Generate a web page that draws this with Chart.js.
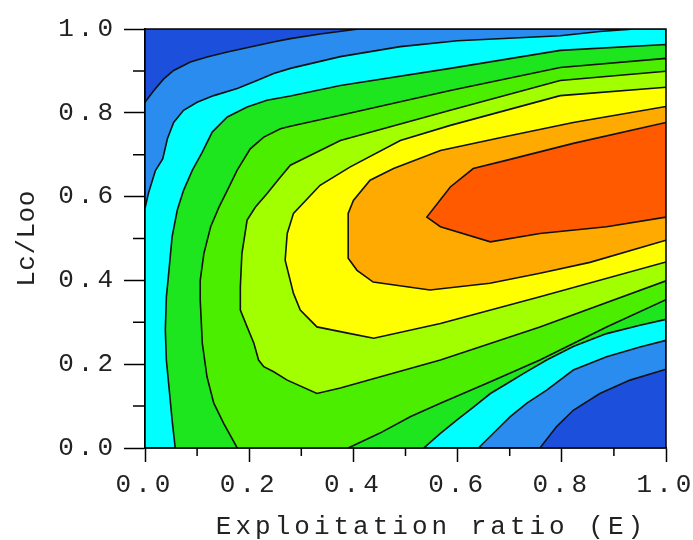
<!DOCTYPE html>
<html>
<head>
<meta charset="utf-8">
<title>Yield isopleth</title>
<script src="https://cdn.jsdelivr.net/npm/chart.js@4.4.1/dist/chart.umd.min.js"></script>
<style>
  html, body { margin: 0; padding: 0; background: #fff; }
  #wrap { width: 693px; height: 540px; }
</style>
</head>
<body>
<div id="wrap"><canvas id="isoChart"></canvas></div>
<script>
// tick labels
const eTickLabels = ['0.0', '0.2', '0.4', '0.6', '0.8', '1.0'];
const lTickLabels = ['0.0', '0.2', '0.4', '0.6', '0.8', '1.0'];

// contour lines, points are [E, Lc/Loo]
// lines 1-4 come in two pieces (upper-left and lower-right)
const c1Upper = [[0, 0.825], [0.017, 0.853], [0.036, 0.881], [0.055, 0.901], [0.087, 0.921], [0.119, 0.933], [0.158, 0.945], [0.202, 0.957], [0.246, 0.969], [0.279, 0.977], [0.336, 0.988], [0.41, 1]];
const c1Lower = [[0.758, 0], [0.79, 0.051], [0.822, 0.09], [0.873, 0.13], [0.931, 0.162], [1, 0.188]];

const c2Upper = [[0, 0.572], [0.007, 0.61], [0.02, 0.662], [0.034, 0.69], [0.043, 0.738], [0.055, 0.777], [0.074, 0.806], [0.1, 0.825], [0.132, 0.841], [0.177, 0.858], [0.215, 0.877], [0.247, 0.894], [0.279, 0.906], [0.375, 0.934], [0.49, 0.958], [0.6, 0.972], [0.797, 0.984], [0.873, 0.994], [0.94, 1]];
const c2Lower = [[0.64, 0], [0.675, 0.043], [0.701, 0.075], [0.733, 0.107], [0.771, 0.138], [0.822, 0.186], [0.886, 0.218], [0.95, 0.241], [1, 0.257]];

const c3Upper = [[0.058, 0], [0.052, 0.067], [0.046, 0.146], [0.041, 0.21], [0.039, 0.282], [0.041, 0.36], [0.046, 0.424], [0.052, 0.504], [0.062, 0.568], [0.074, 0.615], [0.091, 0.663], [0.11, 0.706], [0.129, 0.754], [0.158, 0.79], [0.196, 0.814], [0.234, 0.83], [0.279, 0.84], [0.375, 0.865], [0.586, 0.906], [0.797, 0.949], [1, 0.963]];
const c3Lower = [[0.535, 0], [0.567, 0.035], [0.599, 0.067], [0.631, 0.098], [0.663, 0.13], [0.695, 0.154], [0.727, 0.178], [0.771, 0.21], [0.822, 0.242], [0.886, 0.273], [0.95, 0.293], [1, 0.307]];

const c4Upper = [[0.177, 0], [0.151, 0.059], [0.132, 0.107], [0.119, 0.17], [0.11, 0.25], [0.106, 0.353], [0.106, 0.4], [0.113, 0.464], [0.126, 0.528], [0.142, 0.575], [0.158, 0.615], [0.177, 0.663], [0.202, 0.714], [0.228, 0.742], [0.26, 0.762], [0.279, 0.768], [0.375, 0.794], [0.586, 0.853], [0.797, 0.908], [1, 0.93]];
const c4Lower = [[0.39, 0], [0.45, 0.035], [0.51, 0.075], [0.567, 0.107], [0.663, 0.158], [0.758, 0.21], [0.886, 0.289], [1, 0.354]];

// lines 5-8 run from the right edge, round the left, back to the right edge
const c5 = [[1, 0.899], [0.797, 0.877], [0.586, 0.806], [0.375, 0.734], [0.279, 0.675], [0.26, 0.647], [0.234, 0.607], [0.212, 0.575], [0.196, 0.544], [0.186, 0.464], [0.183, 0.385], [0.183, 0.329], [0.196, 0.289], [0.209, 0.25], [0.218, 0.21], [0.228, 0.194], [0.247, 0.182], [0.273, 0.162], [0.33, 0.13], [0.375, 0.143], [0.452, 0.17], [0.567, 0.21], [0.758, 0.289], [1, 0.399]];
const c6 = [[1, 0.861], [0.797, 0.841], [0.586, 0.77], [0.49, 0.734], [0.394, 0.671], [0.336, 0.627], [0.285, 0.56], [0.273, 0.512], [0.269, 0.448], [0.285, 0.369], [0.298, 0.329], [0.33, 0.289], [0.394, 0.273], [0.439, 0.262], [0.567, 0.297], [0.758, 0.361], [1, 0.444]];
const c7 = [[1, 0.815], [0.822, 0.777], [0.695, 0.744], [0.567, 0.71], [0.477, 0.667], [0.432, 0.639], [0.4, 0.591], [0.39, 0.56], [0.39, 0.453], [0.407, 0.424], [0.438, 0.396], [0.547, 0.377], [0.662, 0.393], [0.758, 0.417], [0.854, 0.443], [1, 0.496]];
const c8 = [[1, 0.777], [0.822, 0.727], [0.695, 0.687], [0.63, 0.667], [0.586, 0.623], [0.541, 0.551], [0.567, 0.528], [0.663, 0.492], [0.758, 0.512], [0.886, 0.528], [1, 0.551]];

// band colours, lowest first (the first one is the plot background)
const bandColors = ['#1c50dc', '#2b8cf0', '#00ffff', '#1ee61e', '#4cee00', '#a2ff00', '#ffff00', '#ffaa00', '#ff5a00'];

// area above each contour level as one closed shape
const bandShapes = [
    [...c1Upper, [1, 1], ...c1Lower.slice().reverse(), [0, 0]],
    [...c2Upper, [1, 1], ...c2Lower.slice().reverse(), [0, 0]],
    [...c3Upper, ...c3Lower.slice().reverse()],
    [...c4Upper, ...c4Lower.slice().reverse()],
    c5, c6, c7, c8
];

const datasets = bandShapes.map((pts, i) => ({
    data: pts.map(p => ({ x: p[0], y: p[1] })),
    backgroundColor: bandColors[i + 1],
    borderColor: '#111',
    borderWidth: 1.6,
    pointRadius: 0,
    tension: 0,
    fill: 'shape',
    order: bandShapes.length - i // outer bands go underneath
}));

const fontFam = "'Liberation Mono', 'DejaVu Sans Mono', monospace";
const spacing = '4px';

// wrap a scale's title drawing (own letter spacing, small shift)
function wrapTitle(scale, gap, shiftX) {
    if (!scale || scale._titleWrapped) return;
    const orig = scale.drawTitle;
    scale.drawTitle = function () {
        const c = this.ctx;
        const prev = c.letterSpacing;
        c.save();
        c.letterSpacing = gap;
        c.translate(shiftX, 0);
        orig.call(this);
        c.restore();
        c.letterSpacing = prev;
    };
    scale._titleWrapped = true;
}

// wide lettering like the original, and the plot background / frame / minor ticks
const decor = {
    id: 'decor',
    beforeUpdate(chart) { chart.ctx.letterSpacing = spacing; },
    afterLayout(chart) {
        wrapTitle(chart.scales.y, '0.5px', 0);
        wrapTitle(chart.scales.x, spacing, 26);
    },
    beforeDraw(chart) { chart.ctx.letterSpacing = spacing; },
    beforeDatasetsDraw(chart) {
        const { ctx, chartArea: a } = chart;
        ctx.save();
        ctx.fillStyle = bandColors[0];
        ctx.fillRect(a.left, a.top, a.right - a.left, a.bottom - a.top);
        ctx.restore();
    },
    afterDraw(chart) {
        const { ctx, chartArea: a, scales } = chart;
        ctx.save();
        ctx.strokeStyle = '#000';
        ctx.lineWidth = 1.5;
        ctx.beginPath();
        scales.x.ticks.forEach((t, i) => {
            if (i % 2) {
                const px = scales.x.getPixelForValue(t.value);
                ctx.moveTo(px, a.bottom);
                ctx.lineTo(px, a.bottom + 8);
            }
        });
        scales.y.ticks.forEach((t, i) => {
            if (i % 2) {
                const py = scales.y.getPixelForValue(t.value);
                ctx.moveTo(a.left - 12, py);
                ctx.lineTo(a.left, py);
            }
        });
        ctx.stroke();
        ctx.strokeRect(a.left, a.top, a.right - a.left, a.bottom - a.top);
        ctx.restore();
    }
};

const ctx = document.getElementById('isoChart').getContext('2d');
const chart = new Chart(ctx, {
    type: 'line',
    data: { datasets: datasets },
    options: {
        responsive: true,
        maintainAspectRatio: false,
        animation: false,
        events: [],
        layout: { padding: { top: 29, right: 27, left: 0, bottom: 0 } },
        plugins: {
            legend: { display: false },
            tooltip: { enabled: false }
        },
        scales: {
            x: {
                type: 'linear',
                min: 0,
                max: 1,
                border: { display: true, color: '#000', width: 1.5 },
                grid: {
                    drawOnChartArea: false,
                    tickLength: 14,
                    tickWidth: 1.5,
                    tickColor: c => (c.index % 2 ? 'rgba(0,0,0,0)' : '#000')
                },
                ticks: {
                    stepSize: 0.1,
                    autoSkip: false,
                    maxRotation: 0,
                    padding: 10,
                    color: '#222',
                    font: { family: fontFam, size: 26, lineHeight: 1 },
                    callback: (v, i) => (i % 2 === 0 ? eTickLabels[i / 2] : '')
                },
                title: {
                    display: true,
                    text: 'Exploitation ratio (E)',
                    color: '#222',
                    padding: { top: 0, bottom: 0 },
                    font: { family: fontFam, size: 26, lineHeight: 1 }
                },
                afterFit(scale) {
                    scale.height = 92;
                    scale.paddingLeft = 0;
                    scale.paddingRight = 0;
                }
            },
            y: {
                type: 'linear',
                min: 0,
                max: 1,
                border: { display: true, color: '#000', width: 1.5 },
                grid: {
                    drawOnChartArea: false,
                    tickLength: 21,
                    tickWidth: 1.5,
                    tickColor: c => (c.index % 2 ? 'rgba(0,0,0,0)' : '#000')
                },
                ticks: {
                    stepSize: 0.1,
                    autoSkip: false,
                    padding: 7,
                    color: '#222',
                    font: { family: fontFam, size: 26, lineHeight: 1 },
                    callback: (v, i) => (i % 2 === 0 ? lTickLabels[i / 2] : '')
                },
                title: {
                    display: true,
                    text: 'Lc/Loo',
                    color: '#222',
                    padding: { top: 14, bottom: 0 },
                    font: { family: fontFam, size: 26, lineHeight: 1 }
                },
                afterFit(scale) {
                    scale.width = 145;
                    scale.paddingTop = 0;
                    scale.paddingBottom = 0;
                }
            }
        }
    },
    plugins: [decor]
});
</script>
</body>
</html>
